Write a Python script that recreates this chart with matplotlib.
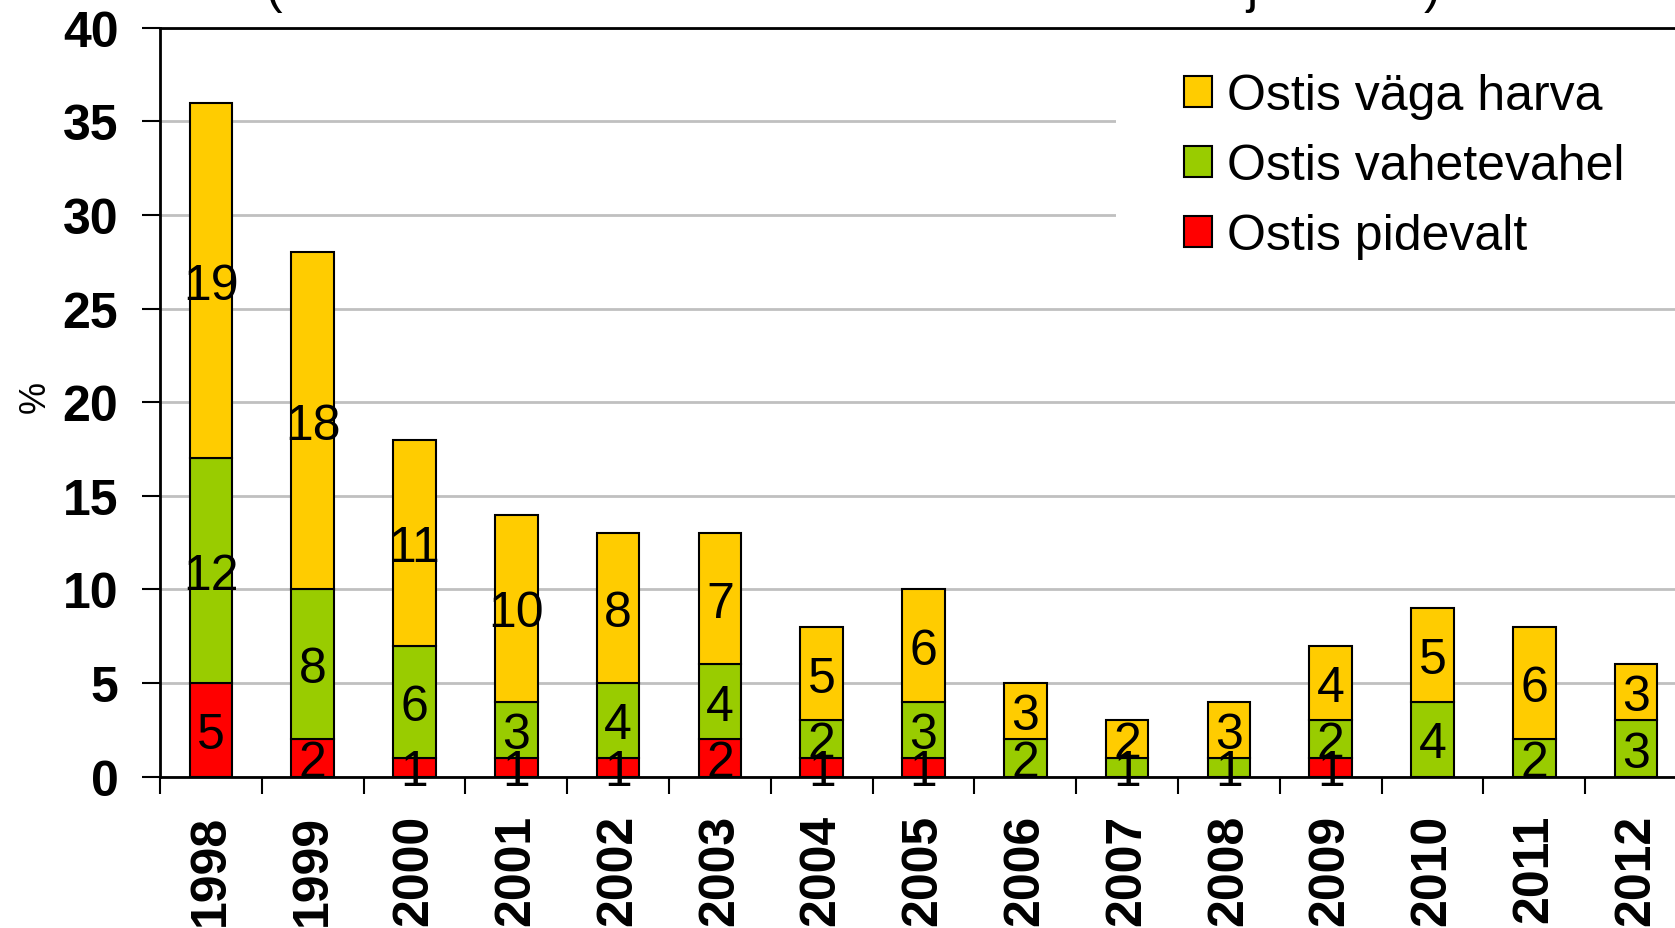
import matplotlib
matplotlib.use("Agg")
import matplotlib.pyplot as plt
from matplotlib.patches import Rectangle
import numpy as np

plt.rcParams['font.family'] = ['Liberation Sans', 'DejaVu Sans']

years = ['1998', '1999', '2000', '2001', '2002', '2003', '2004', '2005',
         '2006', '2007', '2008', '2009', '2010', '2011', '2012']
pidevalt = [5, 2, 1, 1, 1, 2, 1, 1, 0, 0, 0, 1, 0, 0, 0]
vahetevahel = [12, 8, 6, 3, 4, 4, 2, 3, 2, 1, 1, 2, 4, 2, 3]
vaga_harva = [19, 18, 11, 10, 8, 7, 5, 6, 3, 2, 3, 4, 5, 6, 3]

series = [
    ('Ostis pidevalt', pidevalt, '#FF0000'),
    ('Ostis vahetevahel', vahetevahel, '#99CC00'),
    ('Ostis väga harva', vaga_harva, '#FFCC00'),
]
yticks = [0, 5, 10, 15, 20, 25, 30, 35, 40]

W, H = 1675, 929
fig = plt.figure(figsize=(W / 100, H / 100), dpi=100)
x0, x1 = 160, 1687
ytop, ybot = 28.8, 777.6
ax = fig.add_axes([x0 / W, 1 - ybot / H, (x1 - x0) / W, (ybot - ytop) / H])

x = np.arange(len(years))
bottom = np.zeros(len(years))
handles = {}
for name, vals, col in series:
    vals = np.array(vals, dtype=float)
    bars = ax.bar(x, vals, bottom=bottom, width=0.42, color=col,
                  edgecolor='black', linewidth=1.5, zorder=2, label=name)
    handles[name] = bars
    for xi, b, v in zip(x, bottom, vals):
        if v > 0:
            ax.text(xi, b + v / 2, f'{int(v)}', ha='center', va='center_baseline',
                    fontsize=36, color='black', zorder=6, clip_on=False)
    bottom += vals

ax.set_xlim(-0.5, len(years) - 0.5)
ax.set_ylim(0, 40)
ax.set_yticks(yticks)
ax.set_yticklabels([str(t) for t in yticks], fontsize=36, fontweight='bold')
ax.tick_params(axis='y', length=13, width=1.5, pad=17, direction='out')

ax.set_xticks(x)
ax.set_xticklabels(years, rotation=90, fontsize=36, fontweight='bold')
ax.tick_params(axis='x', which='major', length=0, pad=27)
ax.set_xticks(np.arange(-0.5, len(years)), minor=True)
ax.tick_params(axis='x', which='minor', length=12, width=1.5, direction='out')

ax.set_axisbelow(True)
ax.yaxis.grid(True, color='#C0C0C0', linewidth=2, zorder=0.5)
ax.xaxis.grid(False)

for s in ['left', 'bottom', 'top']:
    ax.spines[s].set_linewidth(2)
    ax.spines[s].set_color('black')
    ax.spines[s].set_zorder(5)
ax.spines['right'].set_visible(False)

ax.set_ylabel('%', fontsize=26, rotation=90, labelpad=0)
ax.yaxis.set_label_coords(-(160 - 53) / (x1 - x0), (ybot - 397) / (ybot - ytop))

# white backdrop behind legend
ax.add_patch(Rectangle((1116 / W, 1 - 270 / H), (W - 1116) / W, 205 / H,
                       transform=fig.transFigure, facecolor='white',
                       edgecolor='none', zorder=0.8, clip_on=False))

order = ['Ostis väga harva', 'Ostis vahetevahel', 'Ostis pidevalt']
leg = ax.legend([handles[n] for n in order], order, loc='upper left',
                bbox_to_anchor=(1184 / W, 1 - 74 / H),
                bbox_transform=fig.transFigure, frameon=False, fontsize=36,
                handlelength=0.56, handleheight=0.56, handletextpad=0.3,
                labelspacing=0.48, borderpad=0, borderaxespad=0)

# cropped title fragments at the top edge
for tx, s in [(274, '('), (1252, 'j'), (1432, ')')]:
    fig.text(tx / W, 1 - 3 / H, s, fontsize=36, ha='center', va='baseline')

fig.savefig('out.png', dpi=100)
